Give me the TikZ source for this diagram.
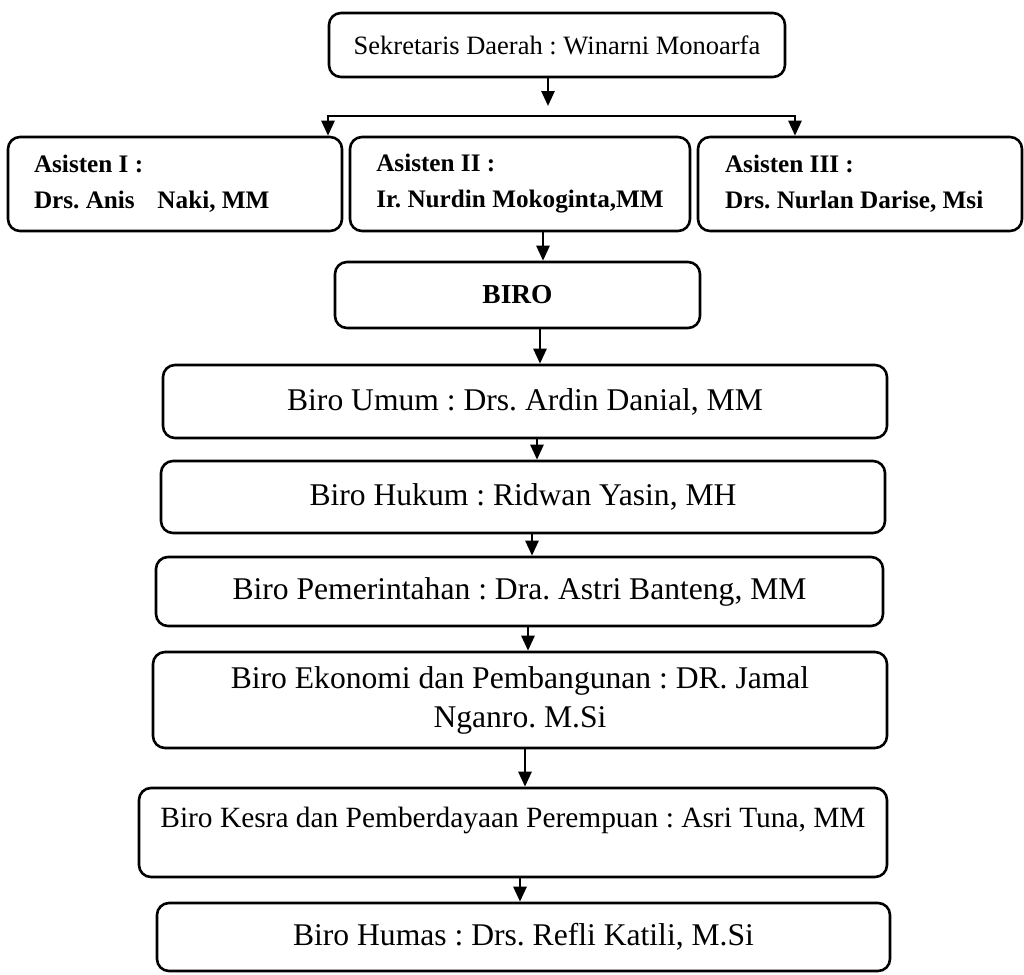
\documentclass[tikz,border=0pt]{standalone}
\usepackage{fontspec}
\setmainfont{Liberation Serif}
\usetikzlibrary{arrows.meta}
\frenchspacing

\begin{document}
\begin{tikzpicture}[x=0.5pt,y=-0.5pt]
\tikzset{
  box/.style={draw,rounded corners=6pt,line width=1.3pt,inner sep=0pt,align=center},
  asisten/.style={box,align=left,font=\fontsize{12.6}{18}\selectfont\bfseries,minimum height=47pt},
  biro/.style={box,font=\fontsize{15.8}{19.5}\selectfont},
  >={Triangle[length=7.5pt,width=6.5pt]},
  arr/.style={line width=1.3pt,->}
}
\path[use as bounding box,fill=white] (0,0) rectangle (1024,975);

\node[box,font=\fontsize{13.25}{16}\selectfont,minimum width=228pt,minimum height=32pt] (sek) at (557,45) {Sekretaris Daerah : Winarni Monoarfa};

\node[asisten,minimum width=167pt] (as1) at (175,184) {\makebox[141pt][l]{Asisten I :}\\Drs. Anis\hspace{0.9em}Naki, MM};
\node[asisten,minimum width=170pt] (as2) at (520,184) {\makebox[143pt][l]{Asisten II :}\\Ir. Nurdin Mokoginta,MM};
\node[asisten,minimum width=162pt] (as3) at (860,184) {\makebox[135pt][l]{Asisten III :}\\Drs. Nurlan Darise, Msi};

\node[box,font=\fontsize{13.7}{16}\selectfont\bfseries,minimum width=182.5pt,minimum height=33pt] (biro) at (517.5,295) {BIRO};

\node[biro,minimum width=362pt,minimum height=36.5pt] (umum) at (525,401.5) {Biro Umum : Drs. Ardin Danial, MM};
\node[biro,minimum width=362pt,minimum height=36pt] (hukum) at (523,497) {Biro Hukum : Ridwan Yasin, MH};
\node[biro,minimum width=363.5pt,minimum height=34.5pt] (pem) at (519.5,591.5) {Biro Pemerintahan : Dra. Astri Banteng, MM};
\node[biro,minimum width=367pt,minimum height=48pt] (eko) at (520,700) {Biro Ekonomi dan Pembangunan : DR. Jamal\\Nganro. M.Si};
\node[biro,font=\fontsize{14.7}{18}\selectfont,text depth=15.7pt,minimum width=374pt,minimum height=44.5pt] (kesra) at (513,832.5) {Biro Kesra dan Pemberdayaan Perempuan : Asri Tuna, MM};
\node[biro,minimum width=366.5pt,minimum height=34pt] (humas) at (523.5,937) {Biro Humas : Drs. Refli Katili, M.Si};

\coordinate (split) at (548,106);
\coordinate (busl) at (328,116);
\coordinate (busr) at (795,116);
\draw[arr] (sek.south -| split) -- (split);
\draw[line width=1.3pt,<->] (busl |- as1.north) -- (busl) -- (busr) -- (busr |- as3.north);

\draw[arr] ([xshift=11.5pt]as2.south) -- ([xshift=11.5pt]as2.south |- biro.north);
\draw[arr] ([xshift=11.25pt]biro.south) -- ([xshift=11.25pt]biro.south |- umum.north);
\draw[arr] ([xshift=6pt]umum.south) -- ([xshift=6pt]umum.south |- hukum.north);
\draw[arr] ([xshift=4.5pt]hukum.south) -- ([xshift=4.5pt]hukum.south |- pem.north);
\draw[arr] ([xshift=4.25pt]pem.south) -- ([xshift=4.25pt]pem.south |- eko.north);
\draw[arr] ([xshift=2.5pt]eko.south) -- ([xshift=2.5pt]eko.south |- kesra.north);
\draw[arr] ([xshift=3.5pt]kesra.south) -- ([xshift=3.5pt]kesra.south |- humas.north);
\end{tikzpicture}
\end{document}
